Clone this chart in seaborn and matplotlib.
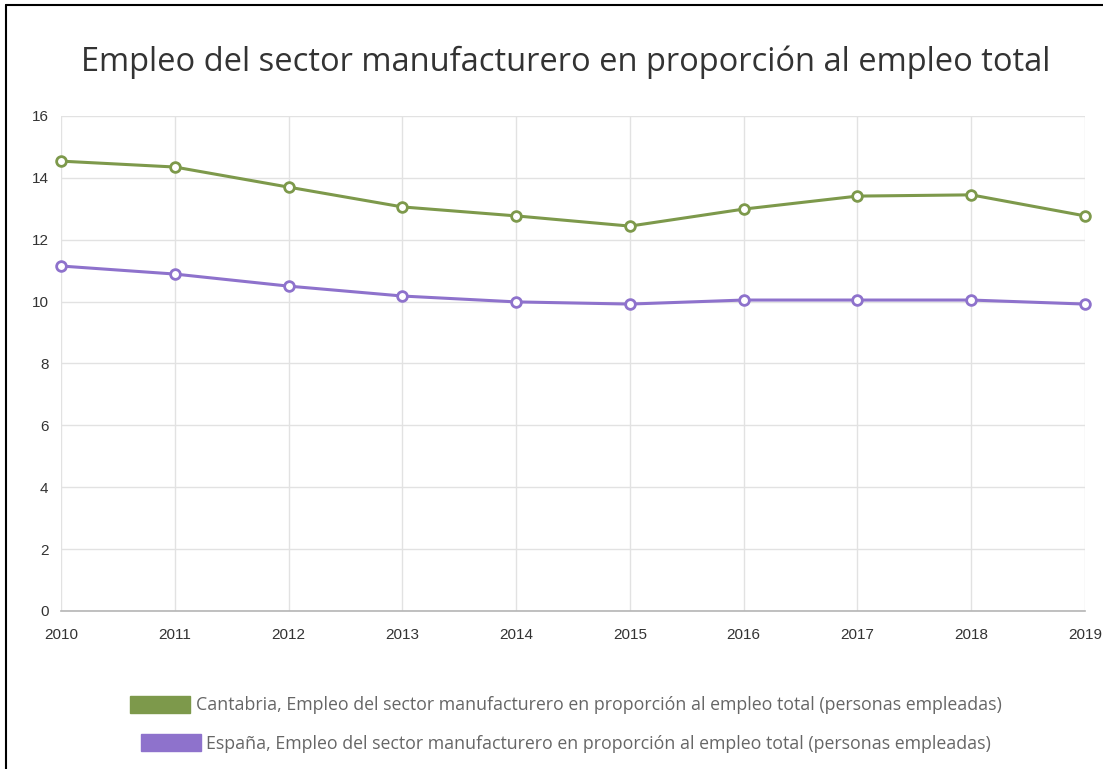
import matplotlib
matplotlib.use("Agg")
import matplotlib.pyplot as plt
from matplotlib.patches import Patch
from matplotlib.lines import Line2D
import pandas as pd
import seaborn as sns

years = [2010, 2011, 2012, 2013, 2014, 2015, 2016, 2017, 2018, 2019]
cantabria = [14.54, 14.35, 13.70, 13.06, 12.77, 12.44, 12.99, 13.41, 13.45, 12.77]
espana = [11.15, 10.89, 10.50, 10.18, 9.99, 9.92, 10.05, 10.05, 10.05, 9.92]
labels = [
    "Cantabria, Empleo del sector manufacturero en proporción al empleo total (personas empleadas)",
    "España, Empleo del sector manufacturero en proporción al empleo total (personas empleadas)",
]
colors = ["#7d994b", "#8e72cc"]
title = "Empleo del sector manufacturero en proporción al empleo total"

df = pd.DataFrame({
    "year": years * 2,
    "value": cantabria + espana,
    "serie": [labels[0]] * len(years) + [labels[1]] * len(years),
})

sns.set_style("whitegrid")
plt.rcParams["font.family"] = ["Liberation Sans", "DejaVu Sans"]

fig = plt.figure(figsize=(11.03, 7.69), dpi=100)
ax = fig.add_axes([0.0553, 0.2055, 0.9284, 0.6437])

sns.lineplot(data=df, x="year", y="value", hue="serie", palette=colors,
             marker="o", markersize=7, markerfacecolor="white",
             markeredgewidth=2, linewidth=2.2, legend=False, ax=ax)
for ln, c in zip(ax.lines, colors):
    ln.set_markeredgecolor(c)
    ln.set_clip_on(False)

ax.set_xlim(2010, 2019)
ax.set_ylim(0, 16)
ax.set_xticks(years)
ax.set_yticks(range(0, 17, 2))
ax.set_xlabel("")
ax.set_ylabel("")
ax.grid(True, color="#e2e2e2", linewidth=1)
for s in ["top", "right"]:
    ax.spines[s].set_visible(False)
ax.spines["left"].set_visible(False)
ax.spines["bottom"].set_color("#b5b5b5")
ax.spines["bottom"].set_linewidth(1.2)
ax.tick_params(axis="both", length=6, color="#d5d5d5", labelsize=11,
               labelcolor="#333333", pad=3)
ax.tick_params(axis="x", pad=6)

fig.text(0.513, 0.919, title, ha="center", va="center", fontsize=23.5,
         family=["Open Sans", "DejaVu Sans"], color="#333333")

# legend rows, each centered like the original
for i, (lab, c) in enumerate(zip(labels, colors)):
    h = Patch(facecolor=c, edgecolor=c)
    fig.legend(handles=[h], labels=[lab], loc="center",
               bbox_to_anchor=(0.513, 0.083 - i * 0.0495), frameon=False,
               handlelength=3.4, handleheight=1.1, handletextpad=0.3,
               prop={"family": ["Open Sans", "DejaVu Sans"], "size": 12.8},
               labelcolor="#666666")

# frame lines of the screenshot
fig.add_artist(Line2D([0.0055, 0.0055], [0, 0.994], transform=fig.transFigure,
                      color="black", linewidth=1.5))
fig.add_artist(Line2D([0.0055, 1], [0.994, 0.994], transform=fig.transFigure,
                      color="black", linewidth=1.5))

fig.savefig("out.png", dpi=100)
